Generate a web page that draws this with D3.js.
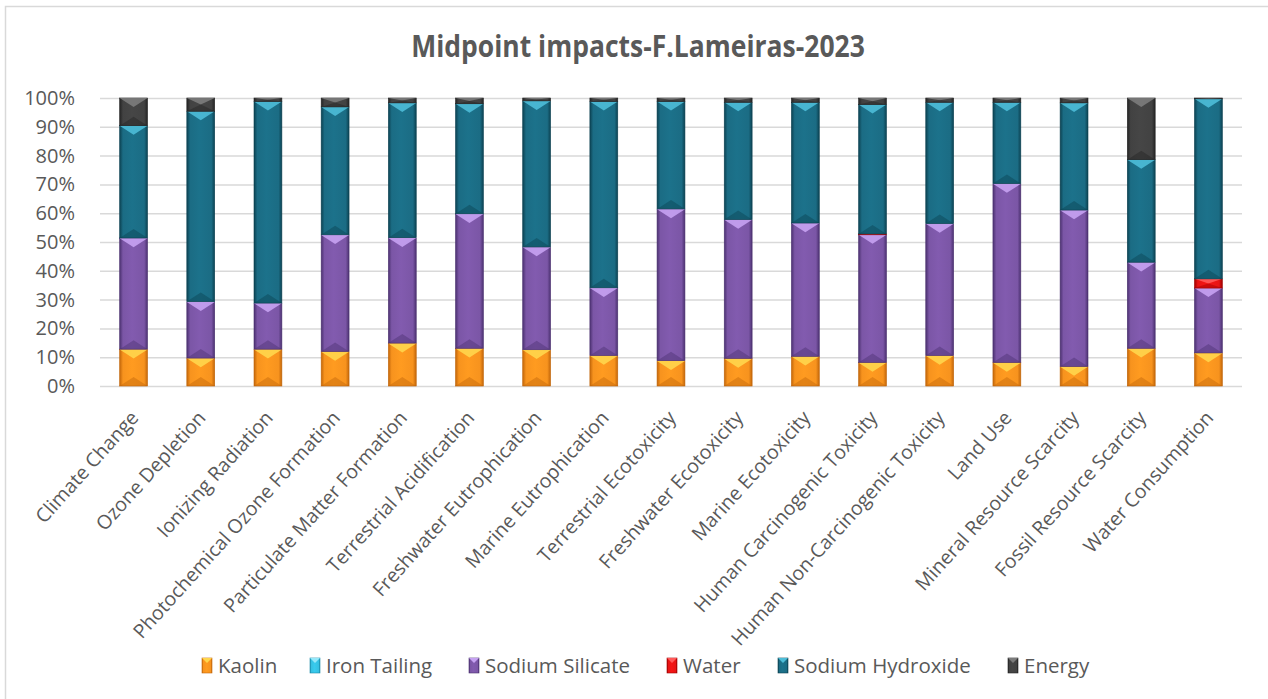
<!DOCTYPE html>
<html>

<head>
	<meta charset="utf-8">
	<script src="https://cdn.jsdelivr.net/npm/d3@7"></script>
	<style>
		body {
			margin: 0;
			background: #fff;
		}

		text {
			font-family: "Open Sans", "Noto Sans", sans-serif;
			fill: #595959;
		}
	</style>
</head>

<body>
	<svg></svg>
	<script>
		// impact categories, shares in percent
		var categories = ["Climate Change", "Ozone Depletion", "Ionizing Radiation", "Photochemical Ozone Formation",
			"Particulate Matter Formation", "Terrestrial Acidification", "Freshwater Eutrophication",
			"Marine Eutrophication", "Terrestrial Ecotoxicity", "Freshwater Ecotoxicity", "Marine Ecotoxicity",
			"Human Carcinogenic Toxicity", "Human Non-Carcinogenic Toxicity", "Land Use",
			"Mineral Resource Scarcity", "Fossil Resource Scarcity", "Water Consumption"];
		var kaolin = [12.7, 9.6, 12.7, 11.9, 14.8, 13.0, 12.5, 10.5, 8.7, 9.5, 10.2, 8.1, 10.5, 8.1, 6.7, 13.0, 11.4];
		var ironTailing = [0.1, 0.1, 0.1, 0.1, 0.1, 0.1, 0.1, 0.1, 0.1, 0.1, 0.1, 0.1, 0.1, 0.1, 0.1, 0.1, 0.1];
		var sodiumSilicate = [38.5, 19.5, 15.9, 40.4, 36.5, 46.6, 35.6, 23.4, 52.6, 48.1, 46.2, 44.3, 45.7, 62.0, 54.2, 29.8, 22.5];
		var water = [0.1, 0.1, 0.1, 0.1, 0.1, 0.1, 0.1, 0.1, 0.1, 0.1, 0.1, 0.3, 0.1, 0.1, 0.1, 0.1, 3.2];
		var sodiumHydroxide = [39.0, 66.1, 70.0, 44.4, 46.8, 38.2, 50.7, 64.7, 37.3, 40.7, 41.9, 44.9, 42.1, 28.2, 37.2, 35.6, 62.5];
		var energy = [9.6, 4.6, 1.2, 3.1, 1.7, 2.0, 1.0, 1.2, 1.2, 1.5, 1.5, 2.3, 1.5, 1.5, 1.7, 21.4, 0.3];
		var seriesNames = ["Kaolin", "Iron Tailing", "Sodium Silicate", "Water", "Sodium Hydroxide", "Energy"];
		var yTicks = [0, 0.1, 0.2, 0.3, 0.4, 0.5, 0.6, 0.7, 0.8, 0.9, 1];

		var seriesValues = [kaolin, ironTailing, sodiumSilicate, water, sodiumHydroxide, energy];
		// base, dark edge, light bevel
		var colors = {
			"Kaolin": ["#f7931e", "#c2660a", "#ffd64d"],
			"Iron Tailing": ["#35c0e2", "#1b8aa8", "#95e8fa"],
			"Sodium Silicate": ["#7b56a6", "#4b3170", "#c6a2f2"],
			"Water": ["#e81414", "#9e0000", "#ff5a5a"],
			"Sodium Hydroxide": ["#1b6c84", "#0c4252", "#4ebdd8"],
			"Energy": ["#424242", "#242424", "#7c7c7c"]
		};

		var W = 1268, H = 699;
		var margins = { left: 100, right: 26, top: 98, bottom: 313 };

		var table = categories.map((c, i) => {
			var row = { cat: c };
			seriesNames.forEach((s, j) => row[s] = seriesValues[j][i]);
			return row;
		});
		var stacked = d3.stack().keys(seriesNames).offset(d3.stackOffsetExpand)(table);

		var svg = d3.select("svg").attr("width", W).attr("height", H);

		var defs = svg.append("defs");
		seriesNames.forEach((s, j) => {
			var g = defs.append("linearGradient").attr("id", "g" + j)
				.attr("x1", 0).attr("x2", 1).attr("y1", 0).attr("y2", 0);
			g.append("stop").attr("offset", 0).attr("stop-color", colors[s][1]);
			g.append("stop").attr("offset", 0.12).attr("stop-color", colors[s][0]);
			g.append("stop").attr("offset", 0.45).attr("stop-color", d3.color(colors[s][0]).brighter(0.15));
			g.append("stop").attr("offset", 0.88).attr("stop-color", colors[s][0]);
			g.append("stop").attr("offset", 1).attr("stop-color", colors[s][1]);
		});

		// chart frame
		svg.append("path")
			.attr("d", "M5.5," + H + "V6.5H" + W)
			.attr("fill", "none").attr("stroke", "#d9d9d9").attr("stroke-width", 1.5);

		var x = d3.scaleBand()
			.domain(categories)
			.range([margins.left, W - margins.right])
			.paddingInner(0.585)
			.paddingOuter(0.2925);
		var y = d3.scaleLinear()
			.domain([0, 1])
			.range([H - margins.bottom, margins.top]);

		// grid + y labels
		var yAxis = svg.append("g")
			.attr("transform", "translate(" + margins.left + ",0)")
			.call(d3.axisLeft(y).tickValues(yTicks).tickFormat(d3.format(".0%"))
				.tickSize(-(W - margins.left - margins.right)).tickPadding(25));
		yAxis.select(".domain").remove();
		yAxis.selectAll(".tick line").attr("stroke", "#d9d9d9").attr("stroke-width", 1.5);
		yAxis.selectAll(".tick text").attr("font-size", 20).attr("fill", "#595959")
			.attr("font-family", "'Open Sans', sans-serif");

		// stacked bars with a bevel look
		var layers = svg.selectAll(".layer")
			.data(stacked)
			.enter().append("g")
			.attr("class", "layer");

		layers.each(function (layer, j) {
			var c = colors[layer.key];
			var segs = d3.select(this).selectAll("g")
				.data(layer.map((d, i) => ({ d: d, cat: categories[i] })))
				.enter().append("g")
				.filter(p => y(p.d[0]) - y(p.d[1]) > 0.3);
			segs.append("rect")
				.attr("x", p => x(p.cat))
				.attr("y", p => y(p.d[1]))
				.attr("width", x.bandwidth())
				.attr("height", p => y(p.d[0]) - y(p.d[1]))
				.attr("fill", "url(#g" + j + ")")
				.attr("stroke", c[1]).attr("stroke-width", 0.6);
			// light top bevel
			segs.append("path")
				.attr("d", p => {
					var x0 = x(p.cat), w = x.bandwidth(), yt = y(p.d[1]);
					var h = Math.min(9, (y(p.d[0]) - yt) / 2);
					return "M" + x0 + "," + yt + "H" + (x0 + w) + "L" + (x0 + w / 2) + "," + (yt + h) + "Z";
				})
				.attr("fill", c[2]).attr("opacity", 0.9);
			// dark bottom bevel
			segs.append("path")
				.attr("d", p => {
					var x0 = x(p.cat), w = x.bandwidth(), yb = y(p.d[0]);
					var h = Math.min(9, (yb - y(p.d[1])) / 2);
					return "M" + x0 + "," + yb + "H" + (x0 + w) + "L" + (x0 + w / 2) + "," + (yb - h) + "Z";
				})
				.attr("fill", c[1]).attr("opacity", 0.45);
		});

		// category labels, rotated
		svg.append("g").selectAll("text")
			.data(categories)
			.enter().append("text")
			.attr("text-anchor", "end")
			.attr("font-size", 19.5)
			.attr("transform", d => "translate(" + (x(d) + x.bandwidth() / 2 + 1) + "," + (H - margins.bottom + 28) + ") rotate(-48)")
			.attr("dy", "0.35em")
			.text(d => d);

		// title
		svg.append("text")
			.attr("transform", "translate(638,57) scale(1,1.12)")
			.attr("text-anchor", "middle")
			.attr("font-size", 26.5).attr("font-weight", "bold")
			.text("Midpoint impacts-F.Lameiras-2023");

		// legend
		var legX = [202, 310, 469, 667, 778, 1008];
		var leg = svg.append("g").selectAll("g")
			.data(seriesNames)
			.enter().append("g")
			.attr("transform", (d, i) => "translate(" + legX[i] + ",658)");
		leg.append("rect")
			.attr("width", 10).attr("height", 15)
			.attr("fill", (d, i) => "url(#g" + i + ")")
			.attr("stroke", d => colors[d][1]).attr("stroke-width", 0.6);
		leg.append("path")
			.attr("d", "M0,0H10L5,5Z")
			.attr("fill", d => colors[d][2]);
		leg.append("text")
			.attr("x", 16).attr("y", 7.5)
			.attr("dy", "0.35em")
			.attr("font-size", 20.5)
			.text(d => d);
	</script>
</body>

</html>
